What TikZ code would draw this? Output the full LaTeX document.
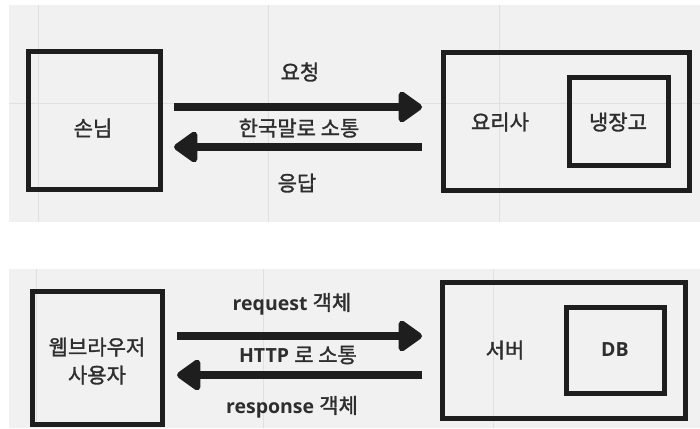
\documentclass[tikz,border=0pt]{standalone}
\usepackage{fontspec}
\setmainfont{Noto Sans CJK KR}[FakeBold=1.5]
\newfontfamily\latinbold{Open Sans}[UprightFont=* Bold]
\usetikzlibrary{arrows.meta}
\definecolor{panel}{HTML}{F1F1F1}
\definecolor{gridc}{HTML}{E0E0E0}
\definecolor{ink}{HTML}{1E1E1E}
\definecolor{txt}{HTML}{2E2E2E}
\newcommand{\krsize}{\fontsize{21}{26}\selectfont}
\newcommand{\ensize}{\fontsize{19.5}{24}\selectfont\latinbold}
\tikzset{
  box/.style={draw=ink, line width=5pt, rectangle, inner sep=0pt},
  lbl/.style={text=txt, font=\krsize, inner sep=0pt, align=center},
  flow/.style={draw=ink, line width=8pt, -{Triangle[round, length=26pt, width=35pt]}},
  gridline/.style={draw=gridc, line width=1pt}
}
\begin{document}
\begin{tikzpicture}[x=1pt,y=-1pt]
\useasboundingbox (0,0) rectangle (700,428);
% panels
\fill[panel] (9,5) rectangle (700,222);
\fill[panel] (9,269) rectangle (700,428);
% grid
\draw[gridline] (38,5) -- (38,222);
\draw[gridline] (268,5) -- (268,222);
\draw[gridline] (499,5) -- (499,222);
\draw[gridline] (9,103) -- (700,103);
\draw[gridline] (36,269) -- (36,428);
\draw[gridline] (263,269) -- (263,428);
\draw[gridline] (493,269) -- (493,428);

% ===== top diagram =====
\node[box, minimum width=131.5pt, minimum height=137.5pt] (guest) at (94.25,120.25) {};
\node[lbl] (guestT) at (93,128) {손님};
\node[box, minimum width=246pt, minimum height=138pt] (cook) at (566.5,121.5) {};
\node[lbl] (cookT) at (500,122) {요리사};
\node[box, minimum width=99pt, minimum height=88pt] (fridge) at (619,121.5) {};
\node[lbl] (fridgeT) at (618,122) {냉장고};

\coordinate (r1s) at (174,107);
\coordinate (r1e) at (422,107);
\coordinate (l1s) at (422,147);
\coordinate (l1e) at (174,147);
\draw[flow] (r1s) -- (r1e);
\draw[flow] (l1s) -- (l1e);
\node[lbl] (req1) at (300,72) {요청};
\node[lbl] (mid1) at (299,128) {한국말로 소통};
\node[lbl] (res1) at (297,183) {응답};

% ===== bottom diagram =====
\node[box, minimum width=130pt, minimum height=133pt] (user) at (97.5,358) {};
\node[lbl, font=\fontsize{21}{28}\selectfont] (userT) at (97,361) {웹브라우저\\사용자};
\node[box, minimum width=243pt, minimum height=136pt] (server) at (564,350.5) {};
\node[lbl] (serverT) at (505,350) {서버};
\node[box, minimum width=98pt, minimum height=86pt] (db) at (615.5,350.5) {};
\node[lbl, font=\ensize] (dbT) at (615,350) {DB};

\coordinate (r2s) at (177,336);
\coordinate (r2e) at (422,336);
\coordinate (l2s) at (422,375);
\coordinate (l2e) at (177,375);
\draw[flow] (r2s) -- (r2e);
\draw[flow] (l2s) -- (l2e);
\node[lbl] (req2) at (292,304) {{\ensize request\ }객체};
\node[lbl] (mid2) at (298,355) {{\ensize HTTP\ }로 소통};
\node[lbl] (res2) at (292,407) {{\ensize response\ }객체};
\end{tikzpicture}
\end{document}
